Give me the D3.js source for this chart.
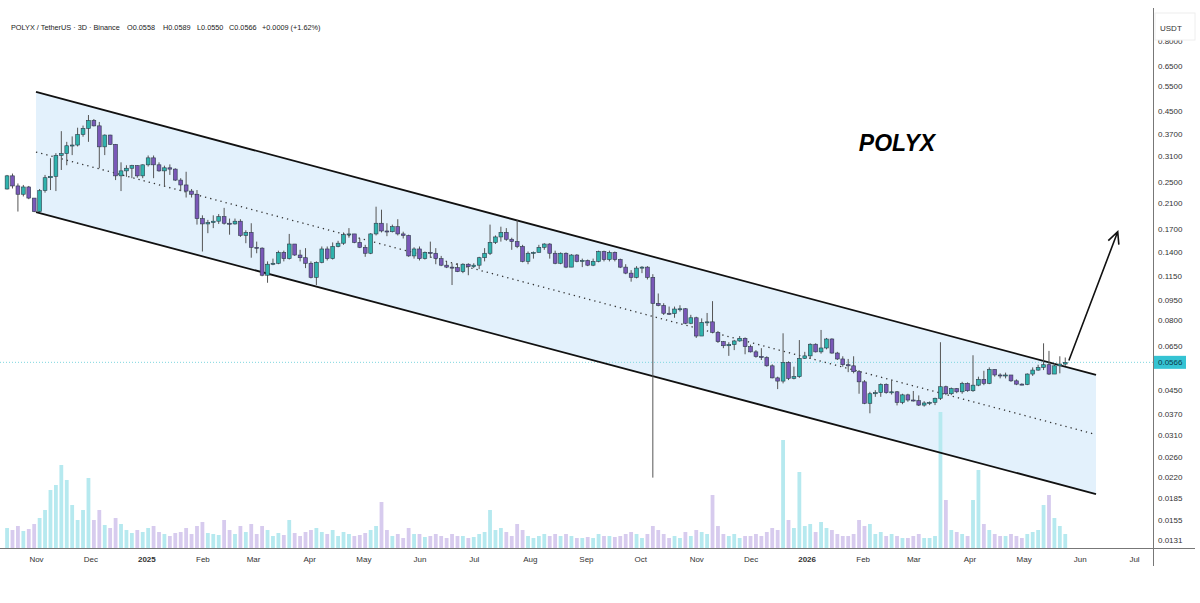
<!DOCTYPE html>
<html>
<head>
<meta charset="utf-8">
<title>POLYX / TetherUS 3D</title>
<script src="https://d3js.org/d3.v7.min.js"></script>
<style>
  body { margin: 0; background: #fff; }
  svg { display: block; font-family: "Liberation Sans", Arial, sans-serif; }
</style>
</head>
<body>
<svg width="1200" height="603"></svg>
<script>
// 3D candles, POLYX/USDT (Binance)
const firstBar = new Date(2024, 9, 16);
const barDays = 3;
const firstOpen = 0.236;

const closes = [
  0.263, 0.242, 0.226, 0.240, 0.219, 0.196, 0.233, 0.259, 0.262, 0.311,
  0.316, 0.337, 0.339, 0.370, 0.389, 0.415, 0.397, 0.334, 0.368, 0.341,
  0.263, 0.274, 0.280, 0.286, 0.263, 0.288, 0.305, 0.288, 0.274, 0.281,
  0.278, 0.254, 0.244, 0.232, 0.226, 0.185, 0.177, 0.179, 0.181, 0.188,
  0.178, 0.177, 0.181, 0.161, 0.165, 0.146, 0.145, 0.116, 0.127, 0.128,
  0.140, 0.133, 0.150, 0.137, 0.134, 0.128, 0.114, 0.129, 0.144, 0.133,
  0.147, 0.151, 0.162, 0.163, 0.152, 0.146, 0.139, 0.163, 0.178, 0.167,
  0.166, 0.173, 0.163, 0.161, 0.136, 0.144, 0.133, 0.140, 0.139, 0.133,
  0.126, 0.124, 0.1235, 0.1195, 0.127, 0.1245, 0.126, 0.134, 0.139, 0.152,
  0.159, 0.165, 0.156, 0.153, 0.147, 0.130, 0.139, 0.140, 0.146, 0.150,
  0.139, 0.128, 0.139, 0.124, 0.137, 0.130, 0.131, 0.126, 0.130, 0.141,
  0.132, 0.140, 0.132, 0.124, 0.118, 0.114, 0.123, 0.124, 0.114, 0.092,
  0.0904, 0.0848, 0.0845, 0.0878, 0.0880, 0.0781, 0.0817, 0.0703, 0.0787, 0.0790,
  0.0725, 0.0671, 0.0649, 0.0655, 0.0675, 0.0690, 0.0644, 0.0617, 0.0594, 0.0589,
  0.0550, 0.0498, 0.0485, 0.0566, 0.0496, 0.0503, 0.0585, 0.0597, 0.0657, 0.0617,
  0.0637, 0.0686, 0.0611, 0.0582, 0.0555, 0.0550, 0.0524, 0.0482, 0.0404, 0.0437,
  0.0441, 0.0472, 0.0441, 0.0444, 0.0407, 0.0433, 0.0415, 0.0413, 0.0398, 0.0405,
  0.0407, 0.0421, 0.0463, 0.0437, 0.0456, 0.0444, 0.0476, 0.0448, 0.0469, 0.0492,
  0.0476, 0.0534, 0.0510, 0.0507, 0.0510, 0.0486, 0.0473, 0.0472, 0.0514, 0.0531,
  0.0543, 0.0555, 0.0514, 0.0550, 0.0558, 0.0566
];

const highs = [
  0.265, 0.268, 0.247, 0.244, 0.242, 0.219, 0.236, 0.265, 0.304, 0.317,
  0.380, 0.348, 0.364, 0.391, 0.398, 0.434, 0.420, 0.410, 0.370, 0.369,
  0.342, 0.294, 0.287, 0.288, 0.287, 0.289, 0.311, 0.311, 0.294, 0.286,
  0.289, 0.280, 0.258, 0.272, 0.236, 0.234, 0.190, 0.183, 0.190, 0.192,
  0.202, 0.185, 0.185, 0.184, 0.168, 0.178, 0.153, 0.146, 0.130, 0.133,
  0.142, 0.142, 0.163, 0.150, 0.143, 0.145, 0.130, 0.130, 0.147, 0.147,
  0.152, 0.154, 0.165, 0.171, 0.163, 0.157, 0.149, 0.164, 0.204, 0.199,
  0.178, 0.176, 0.184, 0.166, 0.162, 0.146, 0.147, 0.141, 0.153, 0.145,
  0.136, 0.130, 0.128, 0.128, 0.128, 0.128, 0.128, 0.135, 0.145, 0.176,
  0.161, 0.173, 0.171, 0.158, 0.183, 0.149, 0.141, 0.141, 0.149, 0.151,
  0.151, 0.142, 0.140, 0.140, 0.138, 0.138, 0.133, 0.132, 0.133, 0.142,
  0.142, 0.142, 0.141, 0.133, 0.127, 0.121, 0.125, 0.125, 0.125, 0.117,
  0.0998, 0.0921, 0.0896, 0.0896, 0.0906, 0.0885, 0.0837, 0.0824, 0.0813, 0.0850,
  0.0937, 0.0733, 0.0675, 0.0668, 0.0681, 0.0703, 0.0695, 0.0655, 0.0626, 0.0636,
  0.0595, 0.0557, 0.0503, 0.0719, 0.0571, 0.0546, 0.0680, 0.0617, 0.0662, 0.0662,
  0.0739, 0.0692, 0.0690, 0.0617, 0.0595, 0.0582, 0.0595, 0.0531, 0.0489, 0.0444,
  0.0450, 0.0476, 0.0476, 0.0489, 0.0447, 0.0437, 0.0437, 0.0447, 0.0431, 0.0411,
  0.0410, 0.0423, 0.0668, 0.0467, 0.0460, 0.0458, 0.0482, 0.0480, 0.0600, 0.0503,
  0.0528, 0.0543, 0.0534, 0.0517, 0.0520, 0.0510, 0.0492, 0.0476, 0.0517, 0.0543,
  0.0555, 0.0662, 0.0622, 0.0562, 0.0595, 0.0589
];

const lows = [
  0.235, 0.237, 0.196, 0.222, 0.217, 0.195, 0.195, 0.229, 0.234, 0.232,
  0.276, 0.287, 0.312, 0.335, 0.363, 0.348, 0.395, 0.280, 0.312, 0.339,
  0.254, 0.232, 0.261, 0.258, 0.259, 0.258, 0.284, 0.258, 0.272, 0.240,
  0.265, 0.252, 0.232, 0.220, 0.220, 0.176, 0.141, 0.164, 0.171, 0.177,
  0.176, 0.162, 0.176, 0.159, 0.151, 0.134, 0.139, 0.115, 0.109, 0.126,
  0.127, 0.130, 0.132, 0.136, 0.130, 0.123, 0.113, 0.107, 0.128, 0.131,
  0.132, 0.146, 0.149, 0.158, 0.151, 0.145, 0.135, 0.138, 0.161, 0.165,
  0.160, 0.165, 0.161, 0.157, 0.135, 0.133, 0.131, 0.132, 0.134, 0.127,
  0.125, 0.123, 0.107, 0.119, 0.118, 0.116, 0.123, 0.122, 0.130, 0.137,
  0.150, 0.153, 0.154, 0.143, 0.145, 0.129, 0.127, 0.133, 0.140, 0.143,
  0.133, 0.127, 0.127, 0.123, 0.124, 0.129, 0.124, 0.125, 0.125, 0.129,
  0.130, 0.130, 0.130, 0.123, 0.117, 0.110, 0.113, 0.118, 0.112, 0.0219,
  0.0898, 0.0836, 0.0836, 0.0817, 0.0860, 0.0775, 0.0775, 0.0692, 0.0703, 0.0764,
  0.0719, 0.0664, 0.0636, 0.0597, 0.0626, 0.0671, 0.0605, 0.0614, 0.0588, 0.0577,
  0.0546, 0.0496, 0.0454, 0.0476, 0.0489, 0.0492, 0.0498, 0.0582, 0.0582, 0.0614,
  0.0608, 0.0630, 0.0608, 0.0577, 0.0546, 0.0522, 0.0517, 0.0437, 0.0401, 0.0372,
  0.0426, 0.0426, 0.0437, 0.0434, 0.0397, 0.0401, 0.0409, 0.0410, 0.0395, 0.0393,
  0.0398, 0.0398, 0.0415, 0.0432, 0.0432, 0.0439, 0.0437, 0.0444, 0.0444, 0.0465,
  0.0469, 0.0473, 0.0503, 0.0496, 0.0496, 0.0482, 0.0469, 0.0469, 0.0469, 0.0506,
  0.0528, 0.0531, 0.0510, 0.0514, 0.0517, 0.0550
];

// volume, millions POLYX
const volumes = [
  20, 18, 22, 17, 19, 24, 30, 38, 58, 63,
  83, 68, 43, 28, 38, 70, 28, 38, 23, 20,
  30, 24, 18, 15, 18, 16, 20, 22, 16, 14,
  12, 15, 16, 20, 14, 22, 26, 15, 14, 13,
  28, 18, 14, 22, 16, 24, 14, 22, 18, 12,
  15, 13, 28, 15, 12, 16, 18, 20, 16, 14,
  18, 12, 16, 14, 12, 13, 15, 18, 22, 46,
  18, 12, 14, 10, 20, 14, 14, 11, 12, 14,
  12, 10, 14, 12, 12, 10, 11, 14, 16, 38,
  18, 20, 16, 12, 24, 18, 12, 10, 12, 14,
  12, 14, 12, 14, 12, 10, 10, 11, 10, 14,
  12, 12, 11, 12, 14, 16, 14, 10, 14, 22,
  18, 14, 10, 12, 10, 16, 12, 18, 16, 14,
  53, 22, 14, 12, 14, 10, 12, 12, 14, 12,
  16, 20, 18, 108, 28, 20, 76, 22, 24, 16,
  26, 20, 18, 14, 12, 12, 14, 28, 22, 24,
  14, 16, 12, 14, 12, 10, 10, 12, 14, 10,
  10, 12, 136, 48, 18, 16, 14, 12, 48, 78,
  24, 18, 14, 12, 12, 14, 12, 10, 14, 16,
  18, 43, 53, 30, 22, 14
];

const priceTicks = [0.8, 0.65, 0.55, 0.45, 0.37, 0.31, 0.25, 0.21, 0.17, 0.14, 0.115,
  0.095, 0.08, 0.065, 0.045, 0.037, 0.031, 0.026, 0.022, 0.0185, 0.0155, 0.0131];
const monthLabels = ["Nov", "Dec", "2025", "Feb", "Mar", "Apr", "May", "Jun", "Jul", "Aug", "Sep",
  "Oct", "Nov", "Dec", "2026", "Feb", "Mar", "Apr", "May", "Jun", "Jul"];

// descending channel drawn on the chart
const channelDates = [new Date(2024, 10, 1), new Date(2026, 5, 10)];
const channelUpper = [0.5248, 0.0510];
const channelLower = [0.1952, 0.01912];
const arrowFrom = [new Date(2026, 4, 26), 0.0575];
const arrowTo = [new Date(2026, 5, 22), 0.166];
const lastPrice = 0.0566;

const svg = d3.select("svg");
const plotRight = 1153;
const axisY = 548;
const upColor = "#2fb3ad", downColor = "#7a58b8";
const upVol = "#b6e9ef", downVol = "#d7cbee";

const x = d3.scaleTime()
  .domain([new Date(2024, 10, 1), new Date(2026, 6, 1)])
  .range([36, 1134]);
const y = d3.scaleLog().domain([0.65, 0.0131]).range([66, 540]);
const yVol = d3.scaleLinear().domain([0, 140]).range([axisY, axisY - 140]);

const bars = closes.map((c, i) => ({
  date: d3.timeDay.offset(firstBar, i * barDays),
  open: i === 0 ? firstOpen : closes[i - 1],
  close: c,
  high: highs[i],
  low: lows[i],
  volume: volumes[i]
}));

svg.append("defs").append("clipPath").attr("id", "plot")
  .append("rect").attr("x", 0).attr("y", 8).attr("width", plotRight).attr("height", axisY - 8);

const plot = svg.append("g").attr("clip-path", "url(#plot)");

// channel fill
plot.append("path")
  .attr("d", d3.line()([
    [x(channelDates[0]), y(channelUpper[0])],
    [x(channelDates[1]), y(channelUpper[1])],
    [x(channelDates[1]), y(channelLower[1])],
    [x(channelDates[0]), y(channelLower[0])]
  ]) + "Z")
  .attr("fill", "#e3f1fc");

// last price line
plot.append("line")
  .attr("x1", 0).attr("x2", plotRight)
  .attr("y1", y(lastPrice)).attr("y2", y(lastPrice))
  .attr("stroke", "#7dd6df").attr("stroke-width", 1)
  .attr("stroke-dasharray", "1,2");

// volume
const bw = 3.8;
plot.append("g").selectAll("rect")
  .data(bars)
  .join("rect")
  .attr("x", d => x(d.date) - bw / 2)
  .attr("y", d => yVol(d.volume))
  .attr("width", bw)
  .attr("height", d => axisY - yVol(d.volume))
  .attr("fill", d => d.close >= d.open ? upVol : downVol);

// channel lines
const chLine = (a, b) => plot.append("line")
  .attr("x1", x(channelDates[0])).attr("y1", y(a))
  .attr("x2", x(channelDates[1])).attr("y2", y(b));
chLine(channelUpper[0], channelUpper[1]).attr("stroke", "#111").attr("stroke-width", 1.8);
chLine(channelLower[0], channelLower[1]).attr("stroke", "#111").attr("stroke-width", 1.8);
chLine(Math.sqrt(channelUpper[0] * channelLower[0]), Math.sqrt(channelUpper[1] * channelLower[1]))
  .attr("stroke", "#333").attr("stroke-width", 1.3).attr("stroke-dasharray", "1.3,4");

// candles
const candle = plot.append("g").selectAll("g")
  .data(bars)
  .join("g");

candle.append("line")
  .attr("x1", d => x(d.date)).attr("x2", d => x(d.date))
  .attr("y1", d => y(Math.max(d.high, d.open, d.close)))
  .attr("y2", d => y(Math.min(d.low, d.open, d.close)))
  .attr("stroke", "#555").attr("stroke-width", 1);

candle.append("rect")
  .attr("x", d => x(d.date) - bw / 2)
  .attr("y", d => y(Math.max(d.open, d.close)))
  .attr("width", bw)
  .attr("height", d => Math.max(1, Math.abs(y(d.open) - y(d.close))))
  .attr("fill", d => d.close >= d.open ? upColor : downColor)
  .attr("stroke", "#2d3b48").attr("stroke-width", 0.6);

// arrow
const ax0 = x(arrowFrom[0]), ay0 = y(arrowFrom[1]);
const ax1 = x(arrowTo[0]), ay1 = y(arrowTo[1]);
const ang = Math.atan2(ay1 - ay0, ax1 - ax0);
const head = 13, spread = 0.45;
svg.append("path")
  .attr("d", `M${ax0},${ay0}L${ax1},${ay1}` +
    `M${ax1 - head * Math.cos(ang - spread)},${ay1 - head * Math.sin(ang - spread)}L${ax1},${ay1}` +
    `L${ax1 - head * Math.cos(ang + spread)},${ay1 - head * Math.sin(ang + spread)}`)
  .attr("fill", "none").attr("stroke", "#111").attr("stroke-width", 1.6);

// title text
svg.append("text")
  .attr("x", 897).attr("y", 151)
  .attr("text-anchor", "middle")
  .attr("font-size", 23).attr("font-weight", "bold").attr("font-style", "italic")
  .attr("fill", "#000")
  .text("POLYX");

// header, one text line with placed parts
const header = [
  ["POLYX / TetherUS \u00b7 3D \u00b7 Binance", 11],
  ["O0.0558", 127],
  ["H0.0589", 163],
  ["L0.0550", 197],
  ["C0.0566", 229],
  ["+0.0009 (+1.62%)", 262]
];
svg.append("text")
  .attr("y", 30)
  .attr("font-size", 7.3).attr("fill", "#222")
  .selectAll("tspan")
  .data(header)
  .join("tspan")
  .attr("x", d => d[1])
  .text(d => d[0]);

// axes frame
svg.append("line").attr("x1", 0).attr("x2", 1195).attr("y1", axisY + 0.5).attr("y2", axisY + 0.5)
  .attr("stroke", "#777").attr("stroke-width", 1);
svg.append("line").attr("x1", plotRight + 0.5).attr("x2", plotRight + 0.5).attr("y1", 8).attr("y2", 566)
  .attr("stroke", "#777").attr("stroke-width", 1);

// price axis
const yAxis = svg.append("g")
  .attr("transform", `translate(${plotRight},0)`)
  .call(d3.axisRight(y).tickValues(priceTicks).tickFormat(d3.format(".4f")).tickSize(0).tickPadding(5));
yAxis.select(".domain").remove();
yAxis.selectAll("text").attr("font-size", 8).attr("fill", "#333")
  .attr("font-family", "Liberation Sans, Arial, sans-serif");

// USDT box covers the top of the first label
svg.append("rect").attr("x", plotRight + 2).attr("y", 13).attr("width", 40).attr("height", 27)
  .attr("fill", "#fff").attr("stroke", "#eee");
svg.append("text").attr("x", plotRight + 7).attr("y", 31)
  .attr("font-size", 8).attr("fill", "#333").text("USDT");

// last price badge
svg.append("rect")
  .attr("x", plotRight + 1).attr("y", y(lastPrice) - 6.5)
  .attr("width", 32).attr("height", 13)
  .attr("fill", "#35c3d3");
svg.append("text")
  .attr("x", plotRight + 5).attr("y", y(lastPrice))
  .attr("dy", "0.35em").attr("font-size", 8).attr("fill", "#0d3b4a")
  .text(d3.format(".4f")(lastPrice));

// time axis
const monthDates = d3.timeMonth.range(new Date(2024, 10, 1), new Date(2026, 6, 2));
const xAxis = svg.append("g")
  .attr("transform", `translate(0,${axisY})`)
  .call(d3.axisBottom(x).tickValues(monthDates).tickSize(0).tickPadding(8)
    .tickFormat((d, i) => monthLabels[i]));
xAxis.select(".domain").remove();
xAxis.selectAll("text")
  .attr("font-size", 8).attr("fill", "#333")
  .attr("font-family", "Liberation Sans, Arial, sans-serif")
  .attr("font-weight", (d, i) => /^\d/.test(monthLabels[i]) ? "bold" : "normal");
</script>
</body>
</html>
